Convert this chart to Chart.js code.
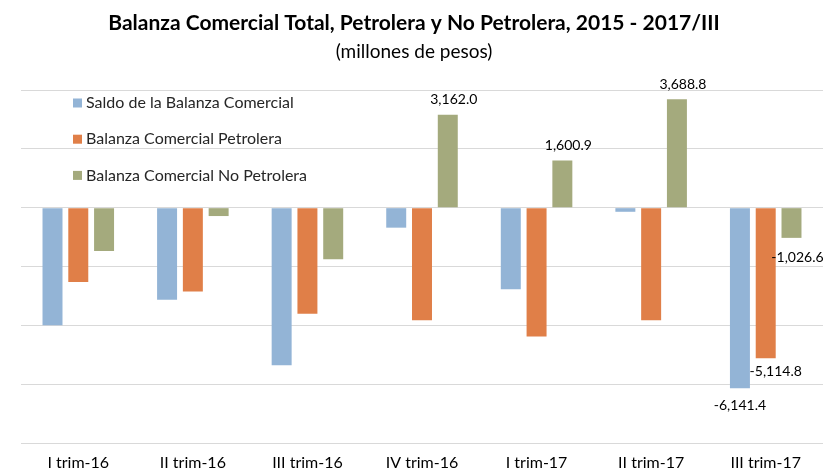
<!DOCTYPE html>
<html>
<head>
<meta charset="utf-8">
<script src="https://cdn.jsdelivr.net/npm/chart.js@4"></script>
<style>
  html, body { margin: 0; padding: 0; background: #fff; }
  #wrap { width: 828px; height: 472px; }
</style>
</head>
<body>
<div id="wrap"><canvas id="myChart"></canvas></div>
<script>
const categories = ["I trim-16", "II trim-16", "III trim-16", "IV trim-16", "I trim-17", "II trim-17", "III trim-17"];
const saldo = [-4000, -3130, -5360, -680, -2770, -140, -6141.4];
const petrolera = [-2530, -2850, -3610, -3830, -4380, -3830, -5114.8];
const noPetrolera = [-1475, -285, -1750, 3162.0, 1600.9, 3688.8, -1026.6];
// which points carry a value label
const labelledSaldo = [6];
const labelledPetrolera = [6];
const labelledNoPetrolera = [3, 4, 5, 6];

const FONT = "Lato, 'Open Sans', sans-serif";

const fmt = (v) =>
  v.toLocaleString("en-US", { minimumFractionDigits: 1, maximumFractionDigits: 1 });

// legend drawn inside the plot area, stacked
const insideLegend = {
  id: "insideLegend",
  afterDraw(chart) {
    const ctx = chart.ctx;
    const area = chart.chartArea;
    ctx.save();
    ctx.font = "16px " + FONT;
    ctx.textBaseline = "middle";
    chart.data.datasets.forEach((ds, i) => {
      const y = area.top + 13 + i * 36.2;
      const x = area.left + 52;
      ctx.fillStyle = ds.backgroundColor;
      ctx.fillRect(x, y - 4.5, 9, 9);
      ctx.fillStyle = "#262626";
      ctx.fillText(ds.label, x + 13, y);
    });
    ctx.restore();
  },
};

// value labels for chosen bars
const valueLabels = {
  id: "valueLabels",
  afterDatasetsDraw(chart, args, opts) {
    const ctx = chart.ctx;
    ctx.save();
    ctx.font = "14px " + FONT;
    ctx.fillStyle = "#000";
    ctx.textAlign = "center";
    ctx.textBaseline = "middle";
    chart.data.datasets.forEach((ds, di) => {
      const meta = chart.getDatasetMeta(di);
      ds.labelled.forEach((idx) => {
        const bar = meta.data[idx];
        const v = ds.data[idx];
        const shift = opts.shift[di] || 0;
        const dy = v >= 0 ? -15 : (opts.dy[di] || 17);
        ctx.fillText(fmt(v), bar.x + shift, bar.y + dy);
      });
    });
    ctx.restore();
  },
};

new Chart(document.getElementById("myChart"), {
  type: "bar",
  data: {
    labels: categories,
    datasets: [
      {
        label: "Saldo de la Balanza Comercial",
        data: saldo,
        labelled: labelledSaldo,
        backgroundColor: "#93B4D6",
      },
      {
        label: "Balanza Comercial Petrolera",
        data: petrolera,
        labelled: labelledPetrolera,
        backgroundColor: "#E07F48",
      },
      {
        label: "Balanza Comercial No Petrolera",
        data: noPetrolera,
        labelled: labelledNoPetrolera,
        backgroundColor: "#A4AA7D",
      },
    ],
  },
  options: {
    responsive: true,
    maintainAspectRatio: false,
    animation: false,
    categoryPercentage: 0.675,
    barPercentage: 0.775,
    layout: { padding: { left: 5, right: 5, top: 0, bottom: 0 } },
    plugins: {
      legend: { display: false },
      tooltip: { enabled: false },
      title: {
        display: true,
        text: "Balanza Comercial Total, Petrolera y No Petrolera, 2015 - 2017/III",
        color: "#000",
        font: { family: FONT, size: 21, weight: "bold" },
        padding: { top: 11, bottom: 4 },
      },
      subtitle: {
        display: true,
        text: "(millones de pesos)",
        color: "#000",
        font: { family: FONT, size: 19 },
        padding: { top: 0, bottom: 27 },
      },
      valueLabels: { shift: [0, 10, 6], dy: [17, 13, 20] },
    },
    scales: {
      x: {
        grid: { display: false, drawTicks: false },
        border: { display: false },
        ticks: { color: "#000", font: { family: FONT, size: 16 }, padding: 10 },
        afterFit(scale) { scale.height = 29; },
      },
      y: {
        min: -8000,
        max: 4000,
        ticks: { display: false, stepSize: 2000 },
        border: { display: false },
        grid: { color: "#D9D9D9", lineWidth: 1, drawTicks: false },
        afterFit(scale) { scale.width = 16; },
      },
    },
  },
  plugins: [insideLegend, valueLabels],
});
</script>
</body>
</html>
